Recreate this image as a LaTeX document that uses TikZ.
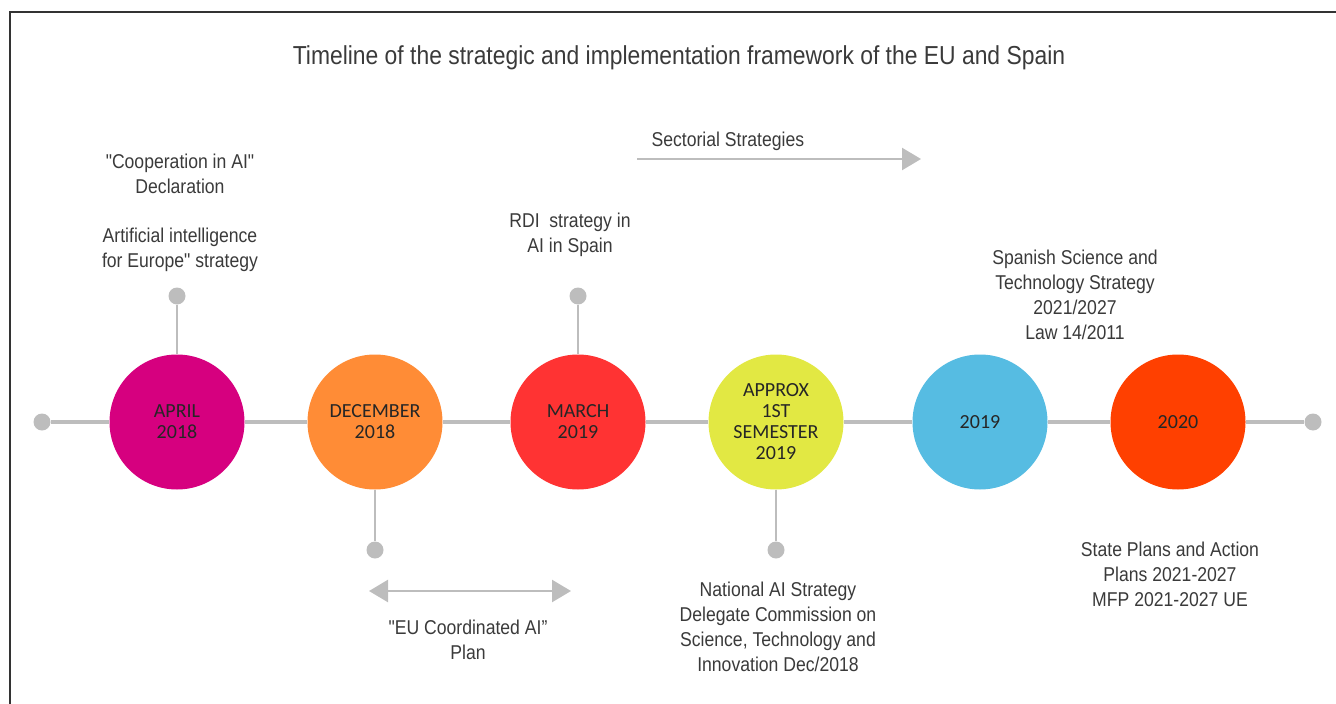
\documentclass[tikz,border=0pt]{standalone}
\usepackage{fontspec}
\setmainfont{Liberation Sans}[FakeStretch=0.88, Ligatures=TeXOff]
\newfontfamily\datefont{Carlito}
\usetikzlibrary{arrows.meta}
\definecolor{linegray}{HTML}{BDBDBD}
\definecolor{textgray}{HTML}{3A3A3A}
\definecolor{aprilcol}{HTML}{D6007F}
\definecolor{deccol}{HTML}{FF8C36}
\definecolor{marchcol}{HTML}{FF3333}
\definecolor{approxcol}{HTML}{E2E843}
\definecolor{bluecol}{HTML}{56BCE2}
\definecolor{redcol}{HTML}{FF4000}
\begin{document}
\begin{tikzpicture}[x=1pt, y=-1pt,
    date/.style={circle, minimum size=135pt, inner sep=0pt, align=center,
      font=\datefont\fontsize{20}{21}\selectfont, text=black!85},
    note/.style={align=center, text=textgray, font=\fontsize{20}{25}\selectfont},
    dot/.style={circle, fill=linegray, minimum size=17pt, inner sep=0pt},
    track/.style={draw=linegray, line width=4pt},
    stem/.style={draw=linegray, line width=2pt},
    tip/.tip={Triangle[length=19pt, width=22pt]},
    spanarrow/.style={draw=linegray, line width=2.5pt}]
        \useasboundingbox (0,0) rectangle (1336,704);
        \draw [black!80, line width=1.5pt] (10,704) -- (10,12) -- (1336,12);
        \node [text=textgray, font=\fontsize{26}{30}\selectfont] (title) at (679,58)
          {Timeline of the strategic and implementation framework of the EU and Spain};

        \node [dot] (start) at (42,422) {};
        \node [dot] (end) at (1313,422) {};
        \node [date, fill=aprilcol] (april) at (177,422) {APRIL\\2018};
        \node [date, fill=deccol] (december) at (375,422) {DECEMBER\\2018};
        \node [date, fill=marchcol] (march) at (578,422) {MARCH\\2019};
        \node [date, fill=approxcol] (approx) at (776,422) {APPROX\\1ST\\SEMESTER\\2019};
        \node [date, fill=bluecol] (y2019) at (980,422) {2019};
        \node [date, fill=redcol] (y2020) at (1178,422) {2020};
        \draw [track] (start) -- (april);
        \draw [track] (april) -- (december);
        \draw [track] (december) -- (march);
        \draw [track] (march) -- (approx);
        \draw [track] (approx) -- (y2019);
        \draw [track] (y2019) -- (y2020);
        \draw [track] (y2020) -- (end);

        \node [dot] (aprildot) at (177,296) {};
        \node [dot] (marchdot) at (578,296) {};
        \node [dot] (decdot) at (375,550) {};
        \node [dot] (approxdot) at (776,550) {};
        \draw [stem] (aprildot) -- (april);
        \draw [stem] (marchdot) -- (march);
        \draw [stem] (december) -- (decdot);
        \draw [stem] (approx) -- (approxdot);

        \node [note] (coop) at (180,174) {"Cooperation in AI"\\Declaration};
        \node [note] (aieurope) at (180,250) {Artificial intelligence\\for Europe" strategy};
        \node [note] (rdi) at (570,235) {RDI\ \ strategy in\\AI in Spain};
        \node [note, anchor=west] (sectorial) at (648,141) {Sectorial Strategies};
        \coordinate (sectstart) at (637,159);
        \coordinate (sectend) at (921,159);
        \draw [spanarrow, -tip] (sectstart) -- (sectend);
        \node [note] (science) at (1075,295) {Spanish Science and\\Technology Strategy\\2021/2027\\Law 14/2011};

        \coordinate (eustart) at (369,591);
        \coordinate (euend) at (571,591);
        \draw [spanarrow, tip-tip] (eustart) -- (euend);
        \node [note] (euplan) at (468,640) {"EU Coordinated AI”\\Plan};
        \node [note] (national) at (778,627) {National AI Strategy\\Delegate Commission on\\Science, Technology and\\Innovation Dec/2018};
        \node [note] (stateplans) at (1170,574) {State Plans and Action\\Plans 2021-2027\\MFP 2021-2027 UE};
\end{tikzpicture}
\end{document}
